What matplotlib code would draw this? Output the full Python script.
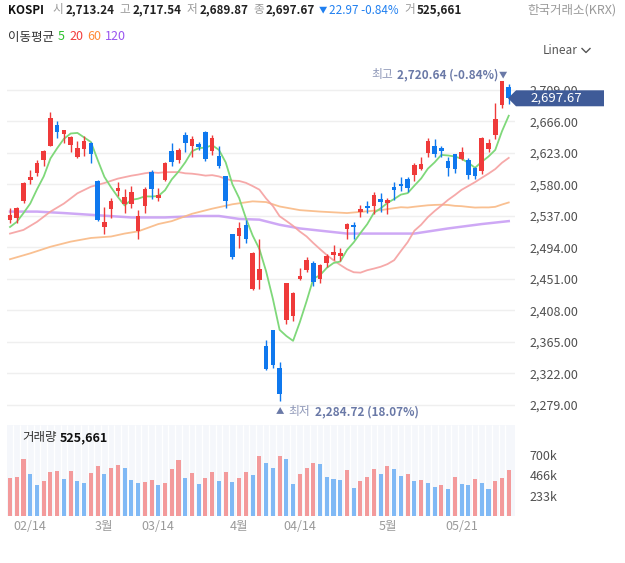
import matplotlib
matplotlib.use('Agg')
import matplotlib.pyplot as plt
import numpy as np
import pandas as pd
from matplotlib.patches import Polygon
from matplotlib.lines import Line2D
from matplotlib.transforms import IdentityTransform

plt.rcParams['font.family'] = ['Noto Sans CJK KR', 'DejaVu Sans']

# trading days 2025-02-11 .. 2025-05-30 (KRX holidays removed)
holidays = pd.to_datetime(['2025-03-03', '2025-05-01', '2025-05-05', '2025-05-06'])
days = pd.bdate_range('2025-02-11', '2025-05-30')
days = days[~days.isin(holidays)]

opens = [2531, 2534, 2558, 2586, 2596, 2613, 2633, 2661, 2649, 2634,
         2617, 2629, 2637, 2585, 2522, 2547, 2571, 2553, 2554, 2516,
         2551, 2597, 2562, 2586, 2626, 2613, 2648, 2633, 2635, 2652,
         2626, 2619, 2592, 2512, 2510, 2525, 2437, 2450, 2359, 2381,
         2330, 2395, 2401, 2451, 2463, 2473, 2451, 2473, 2484, 2482,
         2519, 2525, 2542, 2551, 2550, 2560, 2555, 2576, 2581, 2587,
         2593, 2601, 2623, 2633, 2630, 2612, 2621, 2615, 2614, 2603,
         2598, 2629, 2648, 2689, 2713.24]
highs = [2548, 2549, 2583, 2600, 2613, 2627, 2679, 2666, 2655, 2646,
         2640, 2646, 2638, 2586, 2549, 2561, 2583, 2574, 2578, 2545,
         2577, 2600, 2575, 2611, 2637, 2630, 2651, 2646, 2638, 2653,
         2648, 2632, 2592, 2513, 2529, 2532, 2488, 2506, 2368, 2381,
         2338, 2444, 2433, 2466, 2481, 2475, 2472, 2485, 2497, 2493,
         2527, 2529, 2552, 2558, 2570, 2569, 2561, 2584, 2590, 2590,
         2609, 2618, 2644, 2642, 2633, 2618, 2621, 2631, 2616, 2604,
         2645, 2642, 2691, 2720.64, 2717.54]
lows = [2527, 2528, 2555, 2581, 2592, 2605, 2632, 2644, 2637, 2625,
        2616, 2619, 2610, 2530, 2512, 2534, 2564, 2541, 2548, 2505,
        2541, 2560, 2558, 2585, 2605, 2610, 2625, 2617, 2627, 2612,
        2620, 2602, 2548, 2478, 2493, 2500, 2436, 2437, 2327, 2330,
        2284.72, 2390, 2394, 2449, 2461, 2441, 2446, 2468, 2477, 2475,
        2506, 2506, 2536, 2541, 2540, 2543, 2540, 2559, 2571, 2570,
        2585, 2600, 2618, 2617, 2618, 2592, 2596, 2613, 2587, 2587,
        2594, 2624, 2642, 2685, 2689.87]
closes = [2538, 2548, 2582, 2590, 2609, 2626, 2671, 2652, 2654, 2645,
          2630, 2640, 2621, 2532, 2529, 2558, 2575, 2563, 2570, 2537,
          2574, 2574, 2566, 2610, 2611, 2627, 2637, 2642, 2631, 2615,
          2643, 2605, 2557, 2481, 2521, 2506, 2487, 2465, 2328, 2334,
          2294, 2445, 2432, 2455, 2477, 2447, 2470, 2482, 2488, 2487,
          2526, 2522, 2546, 2548, 2565, 2556, 2559, 2573, 2578, 2575,
          2607, 2608, 2640, 2621, 2626, 2603, 2601, 2625, 2593, 2592,
          2644, 2637, 2670, 2720.64, 2697.67]
# volume, thousands
volume = [441, 452, 658, 487, 350, 407, 510, 512, 430, 521,
          396, 373, 498, 570, 479, 555, 590, 555, 418, 383,
          386, 418, 350, 384, 544, 638, 441, 490, 365, 433,
          502, 396, 502, 388, 441, 502, 467, 684, 604, 547,
          686, 650, 365, 479, 547, 604, 593, 445, 422, 410,
          524, 319, 399, 445, 536, 479, 570, 536, 456, 479,
          399, 410, 376, 331, 353, 308, 445, 365, 353, 422,
          376, 308, 399, 433, 525.661]

ma5_head = [2522, 2529, 2541, 2554]
ma20_head_idx = [0, 2, 4, 6, 8, 10, 12, 14, 16, 18]
ma20_head = [2513, 2518, 2529, 2543, 2554, 2568, 2577, 2582, 2588, 2592]
ma60_head_idx = [0, 3, 6, 9, 12, 15, 17, 19, 22, 24, 27, 30, 33, 36, 38, 40, 43, 46, 50, 55, 58]
ma60_head = [2478, 2486, 2495, 2502, 2507, 2509, 2513, 2516, 2526, 2530, 2540,
             2547, 2553, 2557, 2556, 2550, 2545, 2543, 2541, 2545, 2549]
ma120_idx = [0, 4, 8, 13, 18, 23, 28, 31, 34, 37, 40, 43, 46, 50, 55, 60, 65, 70, 74]
ma120 = [2543, 2543, 2541, 2538, 2535, 2535, 2537, 2537, 2533, 2532, 2525,
         2520, 2517, 2513, 2513, 2513, 2520, 2526, 2530]

price_ticks = [2279, 2322, 2365, 2408, 2451, 2494, 2537, 2580, 2623, 2666, 2709]
vol_ticks = [233, 466, 700]
vol_tick_labels = ['233k', '466k', '700k']
tick_days = ['2025-02-14', '2025-03-04', '2025-03-14', '2025-04-01', '2025-04-14', '2025-05-02', '2025-05-21']
tick_labels = ['02/14', '3월', '03/14', '4월', '04/14', '5월', '05/21']

RED = '#ef3a3a'
BLUE = '#0f78ee'
VRED = '#f39a9b'
VBLUE = '#80b9f5'
SLATE = '#6a79a7'
SLATE_L = '#8f98b8'

o = np.array(opens); h = np.array(highs); l = np.array(lows); c = np.array(closes)
v = np.array(volume)
x = np.arange(len(c))

fig = plt.figure(figsize=(6.25, 5.63), dpi=100)
renderer = fig.canvas.get_renderer()

def px(xp, yp):
    return xp / 625, 1 - yp / 563

ax = fig.add_axes([7 / 625, 1 - 418 / 563, 508 / 625, 356 / 563])
vax = fig.add_axes([7 / 625, 1 - 516 / 563, 508 / 625, 91 / 563])
xl = (-0.45, 74.93)

# ---- price panel
ax.set_xlim(*xl)
ax.set_ylim(2261.25, 2747.2)
for s in ax.spines.values():
    s.set_visible(False)
ax.set_xticks([])
ax.set_yticks(price_ticks)
ax.set_yticklabels([f'{t:,.2f}' for t in price_ticks])
ax.yaxis.tick_right()
ax.tick_params(axis='y', length=0, pad=10.5, labelsize=9, labelcolor='#505050')
ax.grid(axis='y', color='#efefef', lw=1)
ax.set_axisbelow(True)

cs = pd.Series(c)
ma5 = ma5_head + list(cs.rolling(5).mean()[4:])
ma20_x = ma20_head_idx + list(x[19:])
ma20 = ma20_head + list(cs.rolling(20).mean()[19:])
ma60_x = ma60_head_idx + list(x[59:])
ma60 = ma60_head + list(cs.rolling(60).mean()[59:])

ax.plot(ma120_idx, ma120, color='#c293f3', lw=1.8, alpha=0.8, zorder=2)
ax.plot(ma60_x, ma60, color='#f9b985', lw=1.3, alpha=0.9, zorder=2)
ax.plot(ma20_x, ma20, color='#f5a0a0', lw=1.3, alpha=0.9, zorder=2)
ax.plot(x, ma5, color='#7fd87a', lw=1.3, zorder=2)

up = c >= o
cols = np.where(up, RED, BLUE)
ax.vlines(x, l, h, colors=cols, lw=1, zorder=3)
ax.bar(x, np.maximum(np.abs(c - o), 0.8), bottom=np.minimum(o, c), width=0.68,
       color=cols, lw=0, zorder=4)

# high / low markers
imax = int(np.argmax(h)); hi = h[imax]
imin = int(np.argmin(l)); lo = l[imin]
last = c[-1]
tri = ax.annotate('▼', xy=(imax, hi), xytext=(0.8, 4.8), textcoords='offset points',
                  ha='center', va='center', fontsize=6, color=SLATE, annotation_clip=False)
hv = ax.annotate(f'{hi:,.2f} ({(last - hi) / hi * 100:.2f}%)', xy=(0, 0.5), xycoords=tri,
                 xytext=(-0.5, 0), textcoords='offset points', ha='right', va='center',
                 fontsize=8.5, fontweight='bold', color=SLATE)
ax.annotate('최고', xy=(0, 0.5), xycoords=hv, xytext=(-3, 0), textcoords='offset points',
            ha='right', va='center', fontsize=8.5, color=SLATE_L)
tri2 = ax.annotate('▲', xy=(imin, lo), xytext=(0.5, -7.8), textcoords='offset points',
                   ha='center', va='center', fontsize=6, color=SLATE, annotation_clip=False)
lv = ax.annotate('최저', xy=(1, 0.5), xycoords=tri2, xytext=(3, 0), textcoords='offset points',
                 ha='left', va='center', fontsize=8.5, color=SLATE_L)
ax.annotate(f'{lo:,.2f} ({(last - lo) / lo * 100:.2f}%)', xy=(1, 0.5), xycoords=lv,
            xytext=(3, 0), textcoords='offset points', ha='left', va='center',
            fontsize=8.5, fontweight='bold', color=SLATE)

# ---- volume panel
vax.set_xlim(*xl)
vax.set_ylim(0, 1044)
vax.set_facecolor('#f5f7fb')
for s in vax.spines.values():
    s.set_visible(False)
vax.vlines(x[:-1] + 0.5, 0, 1044, colors='white', lw=1, zorder=1)
vol_up = np.r_[True, v[1:] >= v[:-1]]
vax.bar(x, v, width=0.6, color=np.where(vol_up, VRED, VBLUE), lw=0, zorder=3)
vax.set_yticks(vol_ticks)
vax.set_yticklabels(vol_tick_labels)
vax.yaxis.tick_right()
vax.tick_params(axis='y', length=0, pad=10.5, labelsize=9, labelcolor='#505050')
tpos = [days.get_loc(pd.Timestamp(d)) for d in tick_days]
vax.set_xticks(tpos)
vax.set_xticklabels(tick_labels)
vax.tick_params(axis='x', length=0, pad=3, labelsize=9, labelcolor='#9a9a9a')

# ---- header texts
def text_row(xp, yp, pieces):
    for s, gap, kw in pieces:
        xp += gap
        t = fig.text(*px(xp, yp), s, va='center', ha='left', **kw)
        xp = t.get_window_extent(renderer).x1
    return xp

G = dict(color='#9a9a9a', fontsize=8.4)
B = dict(color='#222222', fontsize=8.4, fontweight='bold')
chg = last - c[-2]
text_row(8, 10, [
    ('KOSPI', 0, dict(color='#111111', fontsize=8.4, fontweight='bold')),
    ('시', 9, G), (f'{o[-1]:,.2f}', 2, B),
    ('고', 5, G), (f'{h[-1]:,.2f}', 2, B),
    ('저', 5, G), (f'{l[-1]:,.2f}', 2, B),
    ('종', 5, G), (f'{c[-1]:,.2f}', 2, B),
    ('▼', 4, dict(color='#1f7ff0', fontsize=6)),
    (f'{abs(chg):.2f} {chg / c[-2] * 100:.2f}%', 2, dict(color='#1f7ff0', fontsize=8.4)),
    ('거', 5, G), (f'{v[-1] * 1000:,.0f}', 2, B),
])
fig.text(*px(617, 10), '한국거래소(KRX)', ha='right', va='center', color='#9a9a9a', fontsize=9)

text_row(8, 37, [
    ('이동평균', 0, dict(color='#333333', fontsize=9)),
    ('5', 4, dict(color='#2cc22c', fontsize=9)),
    ('20', 4, dict(color='#f23c3c', fontsize=9)),
    ('60', 4, dict(color='#ff8a35', fontsize=9)),
    ('120', 4, dict(color='#9a55f0', fontsize=9)),
])

fig.text(*px(543, 50), 'Linear', ha='left', va='center', color='#555555', fontsize=8.5)
fig.add_artist(Line2D([582 / 625, 586 / 625, 590 / 625], [1 - 48.5 / 563, 1 - 52.5 / 563, 1 - 48.5 / 563],
                      color='#555555', lw=1))

text_row(22, 438, [
    ('거래량', 0, dict(color='#333333', fontsize=9)),
    (f'{v[-1] * 1000:,.0f}', 3, dict(color='#111111', fontsize=9, fontweight='bold')),
])

# ---- last price tag
ax_x1 = ax.transAxes.transform((1, 0))[0]
yc = ax.transData.transform((0, last))[1]
tag = Polygon([(ax_x1 - 7, yc), (ax_x1 + 1, yc + 8), (ax_x1 + 89, yc + 8),
               (ax_x1 + 89, yc - 8), (ax_x1 + 1, yc - 8)],
              closed=True, facecolor='#3f5b98', edgecolor='none', transform=IdentityTransform())
fig.add_artist(tag)
fig.text(ax_x1 + 15, yc, f'{last:,.2f}', transform=IdentityTransform(), ha='left', va='center',
         color='white', fontsize=9.5, zorder=5)

fig.savefig('out.png', dpi=100)
